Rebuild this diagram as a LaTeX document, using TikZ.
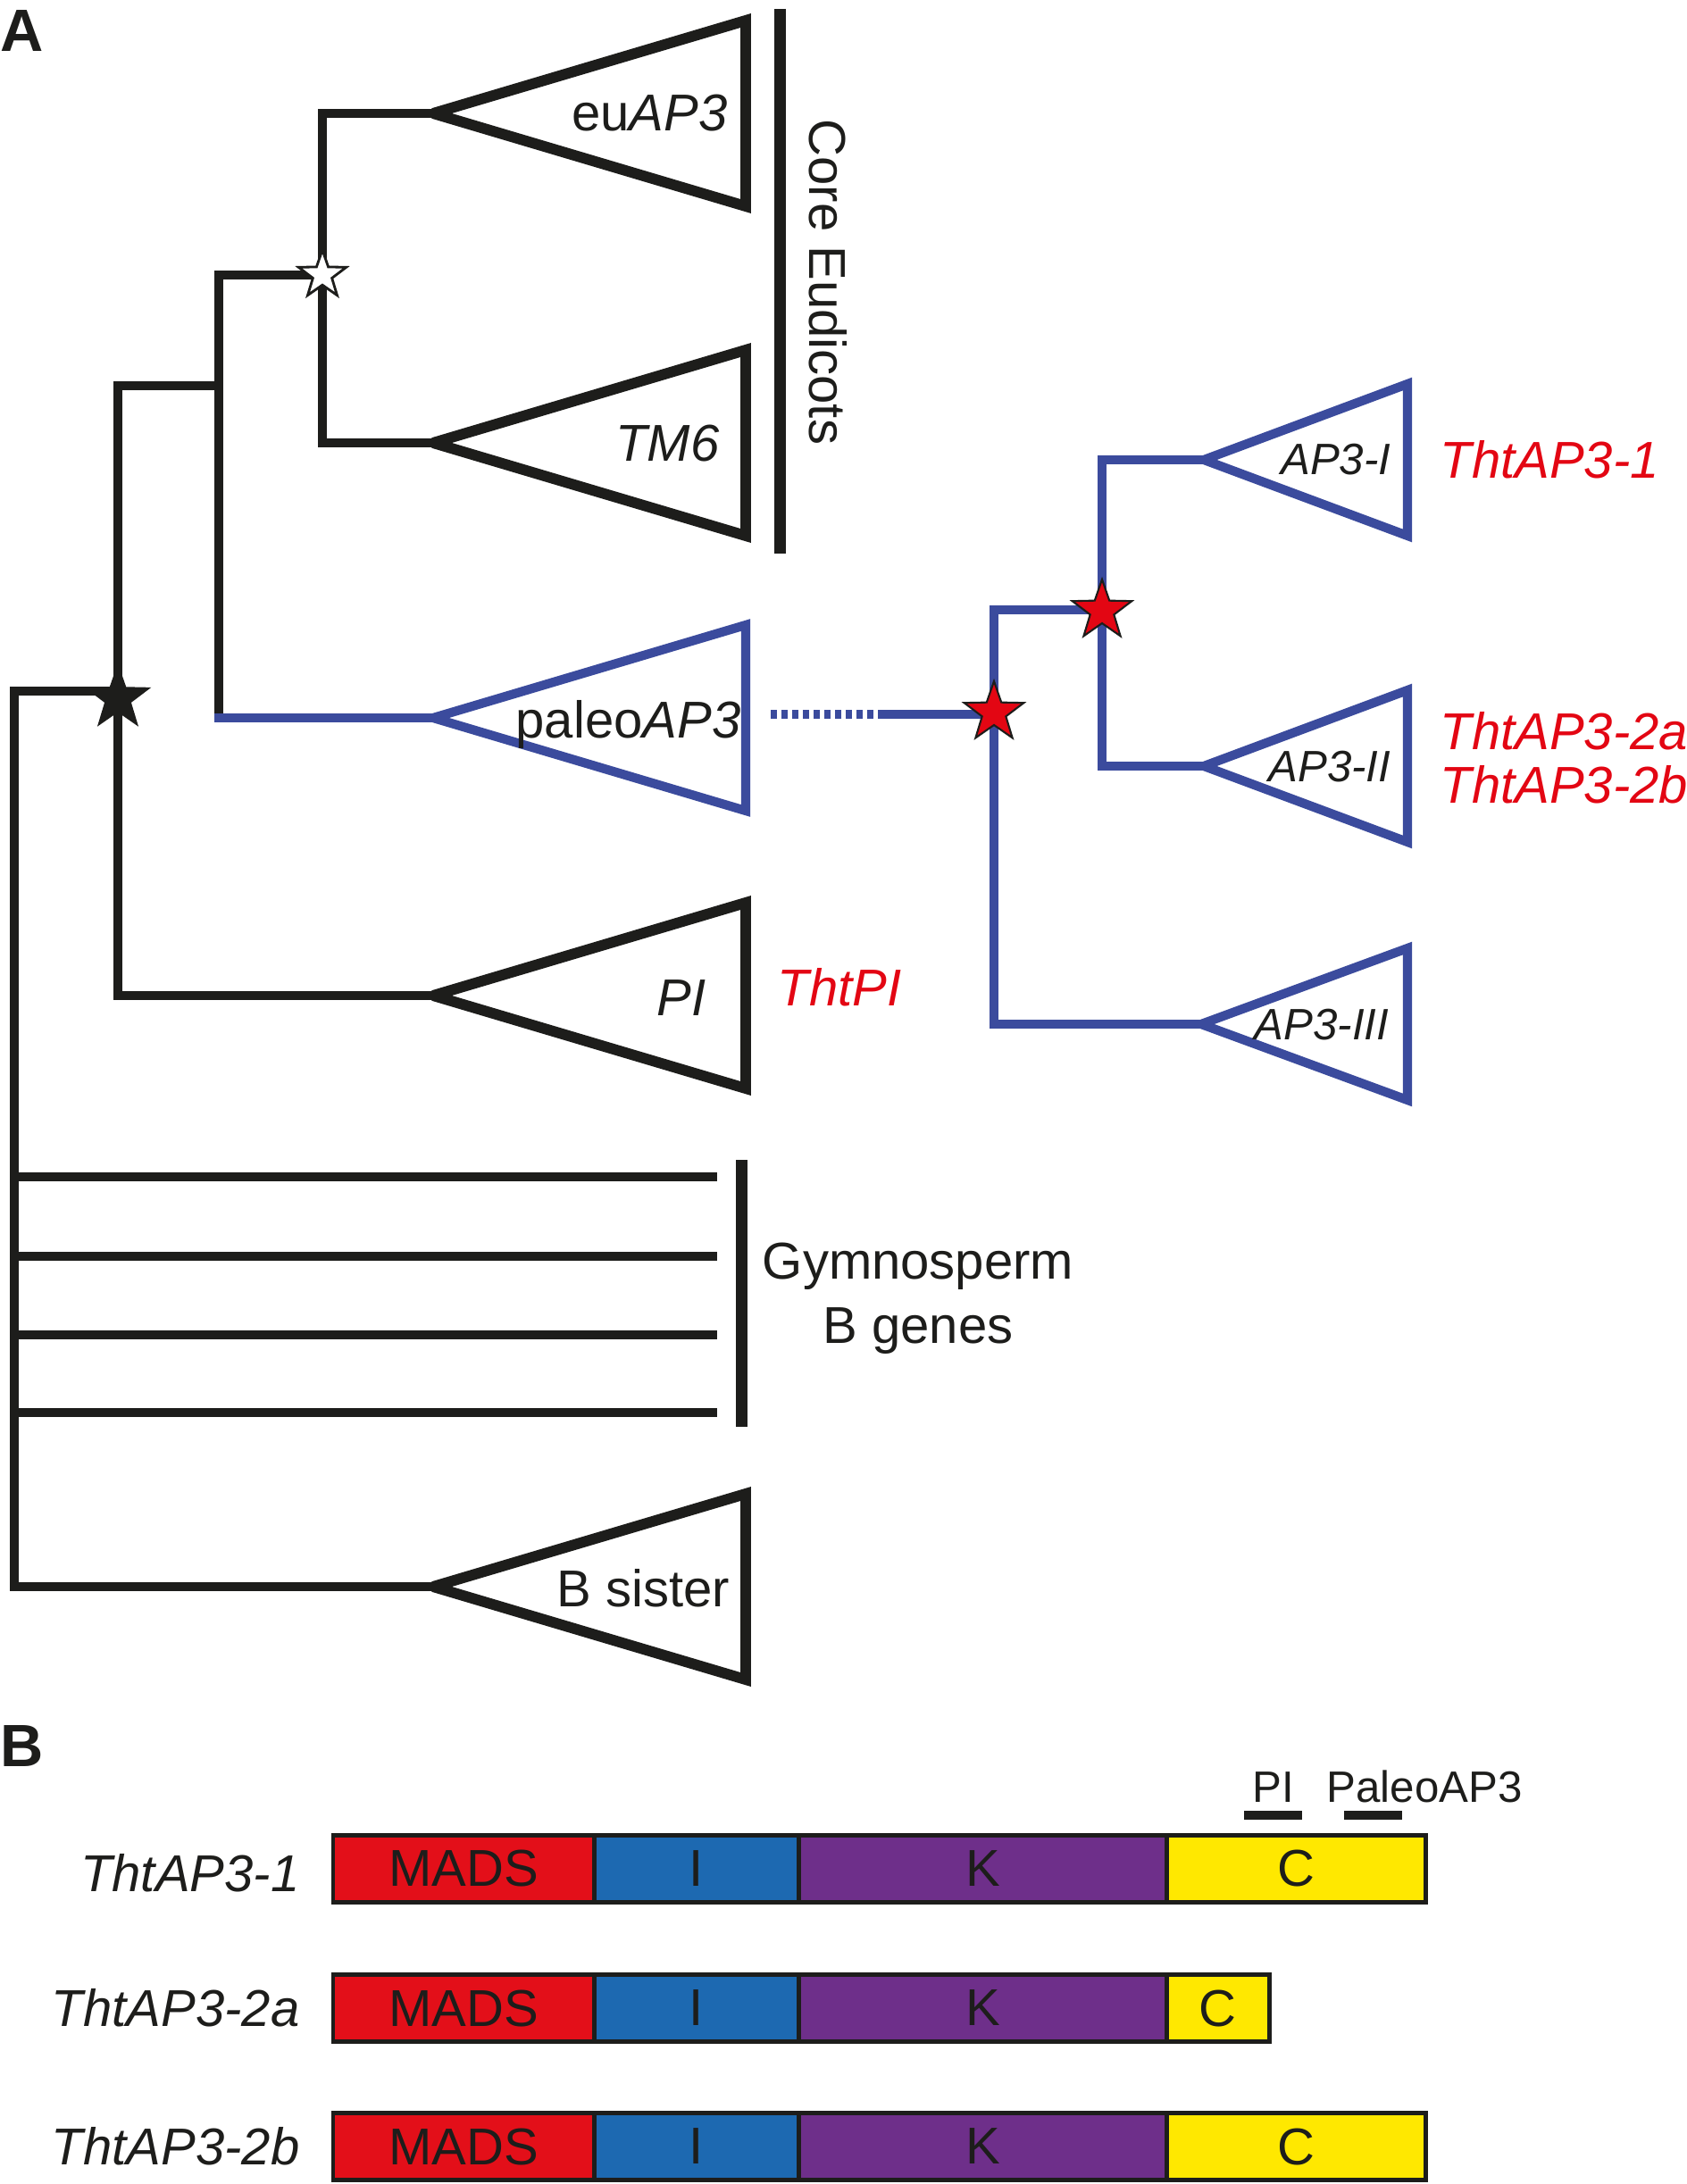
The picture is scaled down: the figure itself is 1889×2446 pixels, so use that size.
\documentclass[tikz,border=0pt]{standalone}
\usepackage{fontspec}
\setmainfont{Liberation Sans}
\usetikzlibrary{shapes.geometric}
\definecolor{lineblack}{RGB}{29,29,27}
\definecolor{treeblue}{RGB}{59,75,157}
\definecolor{labelred}{RGB}{227,6,19}
\definecolor{madsred}{RGB}{227,15,25}
\definecolor{iblue}{RGB}{29,105,177}
\definecolor{kpurple}{RGB}{110,47,138}
\definecolor{cyellow}{RGB}{255,232,0}
\newcommand\fbig{\fontsize{16.5}{20}\selectfont}
\newcommand\fsmall{\fontsize{14}{17}\selectfont}
\begin{document}
\begin{tikzpicture}[x=0.01cm,y=-0.01cm,
  branch/.style={draw=lineblack, line width=2.6pt},
  branchblue/.style={draw=treeblue, line width=2.6pt},
  clade/.style={draw=lineblack, fill=white, line width=3.4pt, miter limit=2},
  cladeblue/.style={draw=treeblue, fill=white, line width=2.9pt, miter limit=2},
  grpbar/.style={draw=lineblack, line width=3.7pt},
  lbl/.style={inner sep=0pt, text=lineblack, font=\fbig},
  lblsm/.style={inner sep=0pt, text=lineblack, font=\fsmall},
  lblred/.style={inner sep=0pt, text=labelred, font=\fbig},
  panel/.style={inner sep=0pt, text=lineblack, font=\fontsize{19}{23}\selectfont\bfseries},
  dupstar/.style={star, star points=5, star point ratio=2.5, inner sep=0pt, minimum size=0.7cm, draw=lineblack, line width=0.6pt},
  dom/.style={draw=lineblack, line width=1.4pt, minimum height=0.75cm, inner sep=0pt, anchor=west, text=lineblack, font=\fbig}
]
\useasboundingbox (0,0) rectangle (1889,2446);

% ---------- Panel A ----------
\coordinate (euA) at (485,127);
\coordinate (tmA) at (485,496);
\coordinate (paA) at (485,804);
\coordinate (piA) at (485,1115);
\coordinate (bsA) at (485,1777);
\coordinate (nCore) at (361,308);
\coordinate (nAng) at (132,782);
\coordinate (ap1A) at (1348,515);
\coordinate (ap2A) at (1348,858);
\coordinate (ap3A) at (1345,1147);
\coordinate (s1) at (1113,798);
\coordinate (s2) at (1234,684);

% black branches
\draw[branch] (euA) -| (nCore) |- (tmA);
\draw[branch] (nCore) -| (245,804);
\draw[branch] (245,432) -| (132,1115) -- (piA);
\draw[branch] (132,774) -| (16,1777) -- (bsA);
\foreach \yy in {1318,1407,1495,1582} \draw[branch] (16,\yy) -- (803,\yy);

% blue branches
\draw[branchblue, line cap=rect] (245,804) -- (paA);
\draw[branchblue, dash pattern=on 0.07cm off 0.05cm] (863,800) -- (989,800);
\draw[branchblue] (989,800) -- (1113,800);
\draw[branchblue] (1234,683) -| (1113,1147) -- (ap3A);
\draw[branchblue] (ap1A) -| (1234,858) -- (ap2A);

% clades
\draw[clade] (euA) -- ++(350,-104) -- ++(0,208) -- cycle;
\draw[clade] (tmA) -- ++(350,-104) -- ++(0,208) -- cycle;
\draw[cladeblue] (paA) -- ++(350,-104) -- ++(0,208) -- cycle;
\draw[clade] (piA) -- ++(350,-104) -- ++(0,208) -- cycle;
\draw[clade] (bsA) -- ++(350,-104) -- ++(0,208) -- cycle;
\draw[cladeblue] (ap1A) -- ++(228,-85) -- ++(0,170) -- cycle;
\draw[cladeblue] (ap2A) -- ++(228,-85) -- ++(0,170) -- cycle;
\draw[cladeblue] (ap3A) -- ++(231,-85) -- ++(0,170) -- cycle;

% group bars
\draw[grpbar] (873,10) -- (873,620);
\draw[grpbar] (830,1299) -- (830,1598);

% stars
\node[dupstar, fill=white, minimum size=0.56cm, line width=0.8pt] (wstar) at (nCore) {};
\node[dupstar, fill=lineblack, minimum size=0.72cm] (bstar) at (nAng) {};
\node[dupstar, fill=labelred] (rstar1) at (s1) {};
\node[dupstar, fill=labelred] (rstar2) at (s2) {};

% labels
\node[panel, anchor=base west] (pA) at (0,58) {A};
\node[lbl, anchor=base east] (teu) at (815,147) {eu\textit{AP3}};
\node[lbl, anchor=base east] (ttm) at (806,517) {\textit{TM6}};
\node[lbl, anchor=base east] (tpa) at (830,826) {paleo\textit{AP3}};
\node[lbl, anchor=base east] (tpi) at (791,1137) {\textit{PI}};
\node[lbl, anchor=base east] (tbs) at (818,1799) {B sister};
\node[lbl, rotate=-90] (tcore) at (927,316) {Core Eudicots};
\node[lbl, align=center, font=\fontsize{16.5}{20.4}\selectfont] (tgym) at (1028,1454) {Gymnosperm\\B genes};
\node[lblred, anchor=base west] (rpi) at (870,1126) {\textit{ThtPI}};
\node[lblred, anchor=base west] (r1) at (1612,536) {\textit{ThtAP3-1}};
\node[lblred, anchor=west, align=left, font=\fontsize{16.5}{17}\selectfont] (r2) at (1612,849) {\textit{ThtAP3-2a}\\\textit{ThtAP3-2b}};
\node[lblsm, anchor=base east] (tap1) at (1558,532) {\textit{AP3-I}};
\node[lblsm, anchor=base east] (tap2) at (1558,875) {\textit{AP3-II}};
\node[lblsm, anchor=base east] (tap3) at (1556,1164) {\textit{AP3-III}};

% ---------- Panel B ----------
\node[panel, anchor=base west] (pB) at (0,1978) {B};
\node[lblsm, anchor=base] (bpi) at (1426,2018) {PI};
\node[lblsm, anchor=base] (bpaleo) at (1595,2018) {PaleoAP3};
\draw[lineblack, line width=2.85pt] (1393,2033) -- (1458,2033);
\draw[lineblack, line width=2.85pt] (1505,2033) -- (1570,2033);

% row 1
\node[dom, fill=madsred, minimum width=2.925cm] (m1) at (370.5,2093) {MADS};
\node[dom, fill=iblue, minimum width=2.29cm] (i1) at (663,2093) {I};
\node[dom, fill=kpurple, minimum width=4.12cm] (k1) at (892,2093) {K};
\node[dom, fill=cyellow, minimum width=2.895cm] (c1) at (1304,2093) {C};
% row 2
\node[dom, fill=madsred, minimum width=2.925cm] (m2) at (370.5,2249) {MADS};
\node[dom, fill=iblue, minimum width=2.29cm] (i2) at (663,2249) {I};
\node[dom, fill=kpurple, minimum width=4.12cm] (k2) at (892,2249) {K};
\node[dom, fill=cyellow, minimum width=1.145cm] (c2) at (1304,2249) {C};
% row 3
\node[dom, fill=madsred, minimum width=2.925cm] (m3) at (370.5,2404) {MADS};
\node[dom, fill=iblue, minimum width=2.29cm] (i3) at (663,2404) {I};
\node[dom, fill=kpurple, minimum width=4.12cm] (k3) at (892,2404) {K};
\node[dom, fill=cyellow, minimum width=2.895cm] (c3) at (1304,2404) {C};

\node[lbl, anchor=east] (g1) at (336,2098) {\textit{ThtAP3-1}};
\node[lbl, anchor=east] (g2) at (336,2249) {\textit{ThtAP3-2a}};
\node[lbl, anchor=east] (g3) at (336,2404) {\textit{ThtAP3-2b}};
\end{tikzpicture}
\end{document}
